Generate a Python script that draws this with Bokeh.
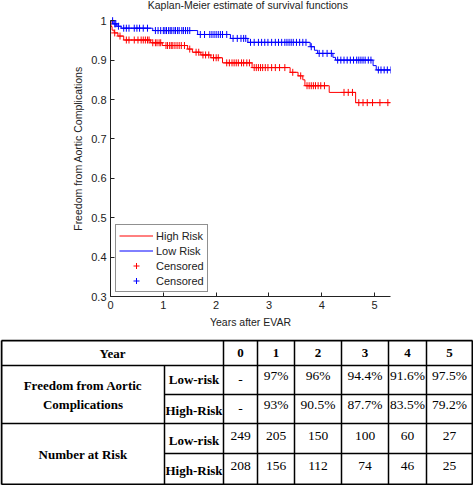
import numpy as np
from bokeh.plotting import figure
from bokeh.models import (Range1d, FixedTicker, CustomJSTickFormatter, Legend,
                          LegendItem)
from bokeh.layouts import column
from bokeh.embed import file_html
from bokeh.resources import INLINE
from bokeh.core.properties import value

# ---------------- data ----------------
# Kaplan-Meier steps (time in years, survival after the step)
low_t = [0.0, 0.05, 0.12, 0.2, 0.8, 1.65, 2.27, 2.6, 3.78, 3.86, 3.92, 4.21, 4.26, 4.97, 5.03, 5.3]
low_s = [1.0, 0.992, 0.986, 0.981, 0.975, 0.965, 0.955, 0.945, 0.934, 0.925, 0.917, 0.907, 0.900, 0.886, 0.875, 0.875]

high_t = [0.0, 0.01, 0.03, 0.07, 0.14, 0.25, 0.76, 0.98, 1.46, 1.55, 1.71, 1.9, 2.12, 2.68,
          3.4, 3.55, 3.64, 3.68, 4.14, 4.64, 5.3]
high_s = [1.0, 0.985, 0.976, 0.969, 0.961, 0.951, 0.944, 0.937, 0.928, 0.920, 0.913, 0.906, 0.893, 0.881,
          0.869, 0.860, 0.850, 0.835, 0.818, 0.792, 0.792]

# censoring times (years)
low_cens = [0.04, 0.08, 0.1, 0.15, 0.25, 0.3, 0.35, 0.45, 0.5, 0.55, 0.62, 0.7, 0.85, 0.9, 0.95,
            1.0, 1.03, 1.06, 1.1, 1.13, 1.16, 1.2, 1.23, 1.27, 1.3, 1.35, 1.38, 1.42, 1.46, 1.5,
            1.7, 1.78, 1.88, 1.92, 1.96, 2.0, 2.04, 2.08, 2.12, 2.2, 2.32, 2.4, 2.47, 2.52, 2.56,
            2.65, 2.72, 2.8, 2.86, 2.92, 2.98, 3.05, 3.12, 3.18, 3.24, 3.3, 3.34, 3.38, 3.42, 3.46,
            3.52, 3.58, 3.64, 3.7, 3.8, 3.95, 4.02, 4.1, 4.18, 4.3, 4.36, 4.42, 4.48, 4.54, 4.6,
            4.66, 4.7, 4.74, 4.78, 4.82, 4.88, 4.93, 5.07, 5.12, 5.18, 5.24, 5.3]
high_cens = [0.08, 0.18, 0.3, 0.35, 0.45, 0.52, 0.58, 0.62, 0.66, 0.7, 0.73, 0.8, 0.85, 0.88, 0.92,
             0.95, 1.05, 1.08, 1.12, 1.15, 1.18, 1.22, 1.26, 1.3, 1.34, 1.4, 1.5, 1.62, 1.67, 1.75,
             1.8, 1.86, 1.95, 2.0, 2.04, 2.2, 2.25, 2.3, 2.34, 2.38, 2.42, 2.48, 2.52, 2.58, 2.63,
             2.72, 2.76, 2.8, 2.84, 2.88, 2.93, 2.98, 3.05, 3.12, 3.2, 3.3, 3.45, 3.6, 3.72, 3.76,
             3.8, 3.84, 3.88, 3.93, 3.98, 4.05, 4.42, 4.5, 4.58, 4.7, 4.78, 4.86, 4.96, 5.1, 5.25]

x_ticks = [0, 1, 2, 3, 4, 5]
y_ticks = [0.3, 0.4, 0.5, 0.6, 0.7, 0.8, 0.9, 1.0]
title_text = "Kaplan-Meier estimate of survival functions"

# table
years = ["0", "1", "2", "3", "4", "5"]
free_low = ["-", "97%", "96%", "94.4%", "91.6%", "97.5%"]
free_high = ["-", "93%", "90.5%", "87.7%", "83.5%", "79.2%"]
risk_low = ["249", "205", "150", "100", "60", "27"]
risk_high = ["208", "156", "112", "74", "46", "25"]


def step_value(t, s, c):
    idx = np.searchsorted(np.array(t), np.array(c), side="right") - 1
    return list(np.array(s)[idx])


SANS = "Liberation Sans"
SERIF = "Liberation Serif"

# ---------------- chart ----------------
# frame spans the y range up to the title line; the y axis itself is bounded to 0.3..1
p = figure(width=473, height=339, output_backend="svg", toolbar_location=None,
           x_range=Range1d(0, 5.3), y_range=Range1d(0.3, 1.0 + 20 / 390),
           min_border_left=110, min_border_right=83, min_border_top=0, min_border_bottom=43)
p.frame_align = False
p.outline_line_color = None
p.xgrid.visible = False
p.ygrid.visible = False
p.background_fill_color = "white"
p.border_fill_color = "white"

r_high = p.step(high_t, high_s, mode="after", line_color="#ff0000", line_width=1)
r_low = p.step(low_t, low_s, mode="after", line_color="#0000ff", line_width=1)
c_high = p.scatter(high_cens, step_value(high_t, high_s, high_cens), marker="cross",
                   size=7, line_color="#ff0000", line_width=1)
c_low = p.scatter(low_cens, step_value(low_t, low_s, low_cens), marker="cross",
                  size=7, line_color="#0000ff", line_width=1)

for ax in (p.xaxis[0], p.yaxis[0]):
    ax.axis_line_color = "#222222"
    ax.major_tick_line_color = "#222222"
    ax.major_tick_in = 4
    ax.major_tick_out = 0
    ax.minor_tick_line_color = None
    ax.major_label_text_font = SANS
    ax.major_label_text_font_size = "11px"
    ax.major_label_text_color = "#222222"
    ax.axis_label_text_font = SANS
    ax.axis_label_text_font_size = "10.5px"
    ax.axis_label_text_font_style = "normal"
    ax.axis_label_text_color = "#222222"
    ax.major_label_standoff = 4
    ax.axis_label_standoff = 4

p.yaxis.bounds = (0.3, 1.0)
p.xaxis.ticker = FixedTicker(ticks=x_ticks)
p.yaxis.ticker = FixedTicker(ticks=y_ticks)
p.yaxis.formatter = CustomJSTickFormatter(code="return (Math.round(tick*10)/10).toString();")
p.xaxis.axis_label = "Years after EVAR"
p.yaxis.axis_label = "Freedom from Aortic Complications"

p.text(x=[2.6], y=[1.0 + 15.5 / 390], text=[title_text], text_align="center",
       text_baseline="middle", text_font=value(SANS), text_font_size="10.5px",
       text_color="#222222")

legend = Legend(items=[LegendItem(label="High Risk", renderers=[r_high]),
                       LegendItem(label="Low Risk", renderers=[r_low]),
                       LegendItem(label="Censored", renderers=[c_high]),
                       LegendItem(label="Censored", renderers=[c_low])],
                location=(5, 4), border_line_color="#222222", border_line_width=1,
                background_fill_color="white", background_fill_alpha=1.0,
                label_text_font=SANS, label_text_font_size="11px", label_text_color="#222222",
                glyph_width=34, glyph_height=15, label_height=15, spacing=0,
                padding=3, margin=0, label_standoff=3)
p.add_layout(legend)

# ---------------- table ----------------
col_edges = [1, 164, 223, 257, 294, 341, 388, 426, 472]
row_edges = [340, 365, 394, 423, 453, 484]

t = figure(width=473, height=146, output_backend="svg", toolbar_location=None,
           x_range=Range1d(0, 473), y_range=Range1d(485, 339),
           min_border=0, min_border_left=0, min_border_right=0,
           min_border_top=0, min_border_bottom=0)
t.frame_align = False
t.axis.visible = False
t.xgrid.visible = False
t.ygrid.visible = False
t.outline_line_color = None
t.border_fill_color = "white"

left, right = col_edges[0], col_edges[-1]
top, bottom = row_edges[0], row_edges[-1]
# inner horizontal lines
hx0 = [left, col_edges[1], left, col_edges[1]]
hy = [row_edges[1], row_edges[2], row_edges[3], row_edges[4]]
t.segment(x0=hx0, y0=hy, x1=[right] * 4, y1=hy, line_color="black", line_width=1.5)
# inner vertical lines
vx = col_edges[1:-1]
vy0 = [row_edges[1]] + [top] * (len(vx) - 1)
t.segment(x0=vx, y0=vy0, x1=vx, y1=[bottom] * len(vx), line_color="black", line_width=1.5)
# outer border
t.segment(x0=[left, left, left, right], y0=[top, bottom, top, top],
          x1=[right, right, left, right], y1=[top, bottom, bottom, bottom],
          line_color="black", line_width=2)

vc = [(col_edges[i + 2] + col_edges[i + 3]) / 2 for i in range(6)]
rc = [(row_edges[i] + row_edges[i + 1]) / 2 for i in range(5)]
bold = dict(text_font=value(SERIF), text_font_size="13px", text_font_style="bold",
            text_align="center", text_baseline="middle", text_color="black")
reg = dict(text_font=value(SERIF), text_font_size="13.5px", text_font_style="normal",
           text_align="center", text_baseline="middle", text_color="black")

# header
t.text(x=[(col_edges[0] + col_edges[2]) / 2] + vc, y=[rc[0]] * 7, text=["Year"] + years, **bold)
# row group labels
lab_x = (col_edges[0] + col_edges[1]) / 2
fr_c = (row_edges[1] + row_edges[3]) / 2
nr_c = (row_edges[3] + row_edges[5]) / 2
t.text(x=[lab_x, lab_x, lab_x], y=[fr_c - 9.5, fr_c + 9.5, nr_c],
       text=["Freedom from Aortic", "Complications", "Number at Risk"], **bold)
sub_x = (col_edges[1] + col_edges[2]) / 2
t.text(x=[sub_x] * 4, y=[rc[1] - 1, rc[2] + 1, rc[3] + 2, rc[4] + 1.5],
       text=["Low-risk", "High-Risk", "Low-risk", "High-Risk"], **bold)


def row_offsets(vals, center, off):
    return [center if v == "-" else center + off for v in vals]


t.text(x=vc, y=row_offsets(free_low, rc[1], -5), text=free_low, **reg)
t.text(x=vc, y=row_offsets(free_high, rc[2], -4.5), text=free_high, **reg)
t.text(x=vc, y=row_offsets(risk_low, rc[3], -3), text=risk_low, **reg)
t.text(x=vc, y=row_offsets(risk_high, rc[4], -3.5), text=risk_high, **reg)

layout = column(p, t, spacing=0)
open("out.html", "w").write(file_html(layout, INLINE))
